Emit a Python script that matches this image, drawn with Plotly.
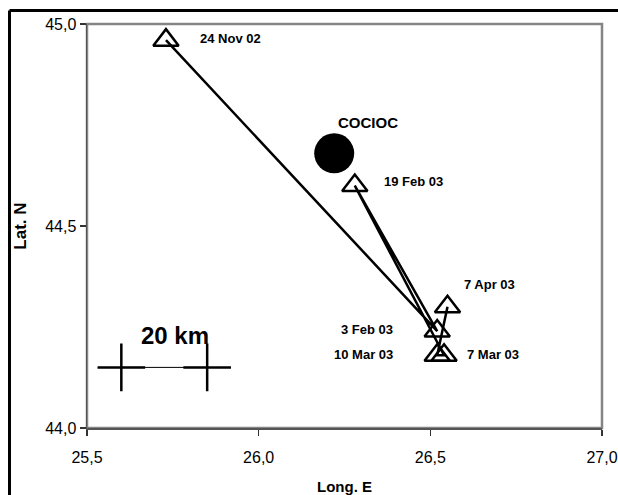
import plotly.graph_objects as go

# Epicentre sequence (chronological)
dates = ["24 Nov 02", "3 Feb 03", "19 Feb 03", "7 Mar 03", "10 Mar 03", "7 Apr 03"]
lon = [25.73, 26.52, 26.28, 26.54, 26.52, 26.55]
lat = [44.96, 44.24, 44.60, 44.18, 44.18, 44.30]

# Station
station_name = ["COCIOC"]
station_lon = [26.22]
station_lat = [44.68]

# Scale bar (20 km)
scale_lon = [25.60, 25.85]
scale_lat = [44.15, 44.15]
scale_text = "20 km"

# Label positions (data coords) and anchors
label_lon = [25.824, 26.398, 26.36, 26.602, 26.398, 26.593]
label_lat = [44.963, 44.243, 44.611, 44.183, 44.183, 44.354]
label_anchor = ["left", "right", "left", "left", "right", "left"]
station_label_lon = [26.319]
station_label_lat = [44.755]
scale_label_lon = [25.755]
scale_label_lat = [44.228]

xticks = [25.5, 26.0, 26.5, 27.0]
yticks = [44.0, 44.5, 45.0]

FONT = "Arial, Liberation Sans, sans-serif"

fig = go.Figure()

fig.add_trace(go.Scatter(
    x=lon, y=lat, mode="lines+markers",
    line=dict(color="black", width=2.5),
    marker=dict(symbol="triangle-up-open", size=22, color="black",
                line=dict(color="black", width=2.5)),
    hoverinfo="skip", showlegend=False))

fig.add_trace(go.Scatter(
    x=station_lon, y=station_lat, mode="markers",
    marker=dict(symbol="circle", size=40, color="black"),
    hoverinfo="skip", showlegend=False))

fig.add_trace(go.Scatter(
    x=scale_lon, y=scale_lat, mode="lines+markers",
    line=dict(color="black", width=1),
    marker=dict(symbol="cross-thin", size=34, color="black",
                line=dict(color="black", width=2.5)),
    hoverinfo="skip", showlegend=False))

annotations = []
for t, x, y, a in zip(dates, label_lon, label_lat, label_anchor):
    annotations.append(dict(x=x, y=y, text="<b>%s</b>" % t, showarrow=False,
                            xanchor=a, yanchor="middle",
                            font=dict(family=FONT, size=13, color="black")))
annotations.append(dict(x=station_label_lon[0], y=station_label_lat[0],
                        text="<b>%s</b>" % station_name[0], showarrow=False,
                        xanchor="center", yanchor="middle",
                        font=dict(family=FONT, size=15, color="black")))
annotations.append(dict(x=scale_label_lon[0], y=scale_label_lat[0],
                        text="<b>%s</b>" % scale_text, showarrow=False,
                        xanchor="center", yanchor="middle",
                        font=dict(family=FONT, size=24, color="black")))

L, R, T, B = 87, 16, 24, 67
W, H = 618, 495
pw, ph = W - L - R, H - T - B

def px2paper_x(p):
    return (p - L) / pw

def px2paper_y(p):
    return (H - B - p) / ph

shapes = [
    # plot area border (grey)
    dict(type="rect", xref="paper", yref="paper", x0=0, x1=1, y0=0, y1=1,
         line=dict(color="#858585", width=2.5), layer="below"),
    # outer black frame: top and left edges (right/bottom lie outside the page)
    dict(type="line", xref="paper", yref="paper",
         x0=px2paper_x(9.5), x1=px2paper_x(700), y0=px2paper_y(10.5), y1=px2paper_y(10.5),
         line=dict(color="black", width=3), layer="below"),
    dict(type="line", xref="paper", yref="paper",
         x0=px2paper_x(9.5), x1=px2paper_x(9.5), y0=px2paper_y(10.5), y1=px2paper_y(600),
         line=dict(color="black", width=3), layer="below"),
]

fig.update_layout(
    width=W, height=H, autosize=False,
    margin=dict(l=L, r=R, t=T, b=B, autoexpand=False),
    paper_bgcolor="white", plot_bgcolor="white",
    separators=",.",
    font=dict(family=FONT, size=14, color="black"),
    annotations=annotations,
    shapes=shapes,
    hovermode=False,
    xaxis=dict(range=[25.5, 27.0], tickvals=xticks, tickformat=".1f",
               automargin=False,
               showgrid=False, zeroline=False, showline=True,
               linecolor="#555555", linewidth=1.5, ticks="outside",
               ticklen=6, tickwidth=1.5, tickcolor="#333333",
               tickfont=dict(size=16), ticklabelstandoff=8,
               title=dict(text="<b>Long. E</b>", font=dict(size=15), standoff=18)),
    yaxis=dict(range=[44.0, 45.0], tickvals=yticks, tickformat=".1f",
               automargin=False,
               showgrid=False, zeroline=False, showline=True,
               linecolor="#555555", linewidth=1.5, ticks="outside",
               ticklen=6, tickwidth=1.5, tickcolor="#333333",
               tickfont=dict(size=16),
               title=dict(text="<b>Lat. N</b>", font=dict(size=17), standoff=14)),
)

fig.write_html(
    "out.html",
    config={"responsive": False, "displayModeBar": False, "staticPlot": True},
    post_script="document.body.style.margin='0';document.body.style.overflow='hidden';",
)
